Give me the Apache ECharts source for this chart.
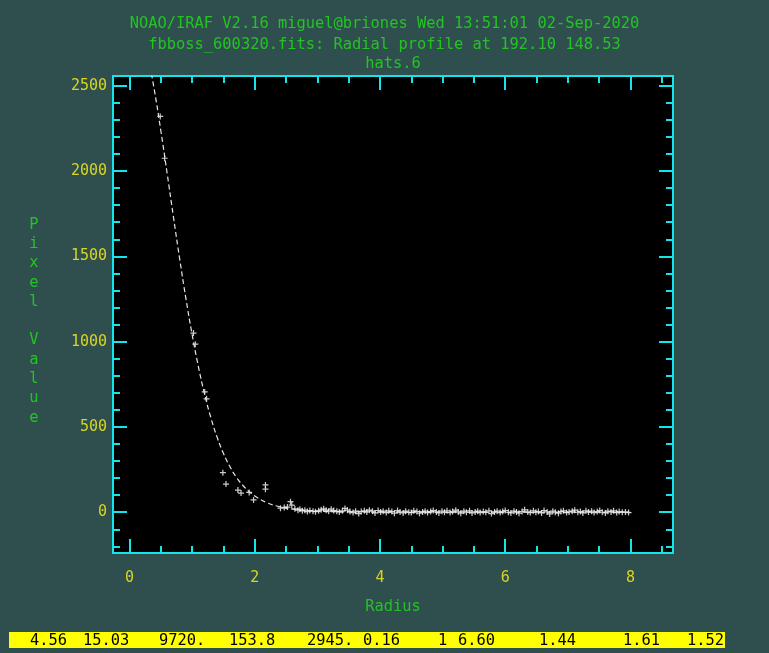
<!DOCTYPE html>
<html>
<head>
<meta charset="utf-8">
<title>Radial profile</title>
<script src="https://cdn.jsdelivr.net/npm/echarts@6/dist/echarts.min.js"></script>
<style>
  html, body { margin: 0; padding: 0; background: #2F4F4F; }
  #chart { width: 769px; height: 653px; }
</style>
</head>
<body>
<div id="chart"></div>
<script>
// Measured pixel values versus radius (sky subtracted)
const radius = [
  0.49, 0.56, 1.02, 1.05, 1.20, 1.23, 1.49, 1.54, 1.73, 1.78, 1.91, 1.98, 2.17, 2.17,
  2.41, 2.47, 2.52, 2.57, 2.59, 2.64, 2.69,
  2.72, 2.76, 2.80, 2.84, 2.88, 2.93, 2.97, 3.02, 3.06, 3.10, 3.14, 3.18, 3.22, 3.26,
  3.31, 3.35, 3.40, 3.44, 3.48, 3.52, 3.57, 3.61, 3.66, 3.70, 3.75, 3.79, 3.83, 3.88,
  3.92, 3.97, 4.01, 4.05, 4.10, 4.14, 4.19, 4.23, 4.28, 4.32, 4.37, 4.41, 4.46, 4.50,
  4.54, 4.59, 4.63, 4.68, 4.72, 4.76, 4.81, 4.85, 4.90, 4.94, 4.99, 5.03, 5.07, 5.12,
  5.16, 5.21, 5.25, 5.29, 5.34, 5.38, 5.43, 5.47, 5.52, 5.56, 5.60, 5.65, 5.69, 5.74,
  5.78, 5.83, 5.87, 5.92, 5.96, 6.00, 6.05, 6.09, 6.14, 6.18, 6.22, 6.27, 6.31, 6.36,
  6.40, 6.45, 6.49, 6.53, 6.58, 6.62, 6.67, 6.71, 6.76, 6.80, 6.85, 6.89, 6.93, 6.98,
  7.02, 7.07, 7.11, 7.16, 7.20, 7.24, 7.29, 7.33, 7.38, 7.42, 7.47, 7.51, 7.55, 7.60,
  7.64, 7.69, 7.73, 7.78, 7.82, 7.87, 7.92, 7.97
];
const pixelValue = [
  2320, 2075, 1050, 985, 705, 665, 232, 165, 130, 112, 116, 72, 160, 135,
  24, 28, 30, 62, 42, 20, 12,
  18, 8, 12, 4, 10, 6, 3, 8, 14, 20, 12, 6, 18, 10,
  5, 2, 8, 22, 12, 4, -2, 6, -8, 4, 8, 2, 12, 6,
  -4, 10, 2, 6, -2, 8, 4, -6, 10, 2, -4, 6, 0, -2,
  8, 4, -6, 2, 6, -2, 4, 10, 2, -4, 6, 0, 8, -2,
  4, 12, 2, -6, 6, 0, 8, -4, 2, 6, -2, 4, 0, 8,
  -8, 2, 6, -2, 4, 10, 0, -4, 6, 2, -6, 4, 14, 2,
  -2, 8, 0, 4, -4, 10, 2, -10, 6, 0, -6, 4, 8, -2,
  2, 6, 12, 0, 4, -4, 8, 2, 6, -2, 4, 10, 0, -4,
  6, 2, 8, -2, 4, 0, 2, -2
];

// Fitted profile curve
const fitRadius = [
  0.30, 0.40, 0.50, 0.60, 0.70, 0.80, 0.90, 1.00, 1.10, 1.20, 1.30, 1.40, 1.50,
  1.60, 1.70, 1.80, 1.90, 2.00, 2.20, 2.40, 2.60, 2.80, 3.00, 3.50, 4.00, 5.00,
  6.00, 7.00, 8.00
];
const fitValue = [
  2663, 2465, 2234, 1986, 1732, 1485, 1252, 1040, 852, 689, 552, 438, 344,
  269, 208, 161, 124, 95, 55, 32, 19, 11, 6, 2, 1, 0,
  0, 0, 0
];

// Axis ticks and labels
const xMajorTicks = [0, 2, 4, 6, 8];
const xMinorTicks = [0.5, 1, 1.5, 2.5, 3, 3.5, 4.5, 5, 5.5, 6.5, 7, 7.5, 8.5];
const yMajorTicks = [0, 500, 1000, 1500, 2000, 2500];
const yMinorTicks = [-200, -100, 100, 200, 300, 400, 600, 700, 800, 900, 1100, 1200,
  1300, 1400, 1600, 1700, 1800, 1900, 2100, 2200, 2300, 2400];

// Header and status line text
const titleLines = [
  'NOAO/IRAF V2.16 miguel@briones Wed 13:51:01 02-Sep-2020',
  'fbboss_600320.fits: Radial profile at 192.10 148.53',
  'hats.6'
];
const xAxisTitle = 'Radius';
const yAxisTitle = 'Pixel Value';
const statusFields = ['4.56', '15.03', '9720.', '153.8', '2945.', '0.16', '1', '6.60', '1.44', '1.61', '1.52'];

const FONT = '"DejaVu Sans Mono", "Liberation Mono", monospace';
const CYAN = '#12E6EA';
const GREEN = '#22C422';
const YELLOW = '#D6D622';

const X_MIN = -0.265, X_MAX = 8.68;
const Y_MIN = -239, Y_MAX = 2557;

function xAxisDef(position, ticks, len, labels) {
  return {
    type: 'value', position: position, min: X_MIN, max: X_MAX,
    axisLine: { show: false, onZero: false },
    splitLine: { show: false },
    axisTick: { show: true, inside: true, length: len, customValues: ticks,
      lineStyle: { color: CYAN, width: 2 } },
    axisLabel: labels ? { show: true, customValues: labels, margin: 18,
      color: YELLOW, fontFamily: FONT, fontSize: 15,
      formatter: v => String(v) } : { show: false }
  };
}
function yAxisDef(position, ticks, len, labels) {
  return {
    type: 'value', position: position, min: Y_MIN, max: Y_MAX,
    axisLine: { show: false, onZero: false },
    splitLine: { show: false },
    axisTick: { show: true, inside: true, length: len, customValues: ticks,
      lineStyle: { color: CYAN, width: 2 } },
    axisLabel: labels ? { show: true, customValues: labels, margin: 6,
      color: YELLOW, fontFamily: FONT, fontSize: 15,
      formatter: v => String(v) } : { show: false }
  };
}

const chart = echarts.init(document.getElementById('chart'), null, { renderer: 'canvas' });

const points = radius.map((r, i) => [r, pixelValue[i]]);
const fit = fitRadius.map((r, i) => [r, fitValue[i]]);

const statusX = [30, 83, 159, 229, 307, 363, 438, 458, 539, 623, 687];

const graphics = [
  { type: 'text', left: 'center', top: 16, style: { text: titleLines[0], fill: GREEN, font: '15.4px ' + FONT } },
  { type: 'text', left: 'center', top: 37, style: { text: titleLines[1], fill: GREEN, font: '15.4px ' + FONT } },
  { type: 'text', x: 393, y: 64, style: { text: titleLines[2], fill: GREEN, font: '15.4px ' + FONT, align: 'center', verticalAlign: 'middle' } },
  { type: 'text', x: 393, y: 607, style: { text: xAxisTitle, fill: GREEN, font: '15.4px ' + FONT, align: 'center', verticalAlign: 'middle' } },
  { type: 'text', x: 34, y: 215, style: { text: yAxisTitle.split('').join('\n'), fill: GREEN, font: '15.4px ' + FONT, align: 'center', verticalAlign: 'top', lineHeight: 19.3 } },
  { type: 'rect', shape: { x: 9, y: 632, width: 716, height: 16 }, style: { fill: '#FFFF00' } }
];
statusFields.forEach((t, i) => {
  graphics.push({ type: 'text', x: statusX[i], y: 640.5,
    style: { text: t, fill: '#000', font: '15.4px ' + FONT, verticalAlign: 'middle' } });
});

chart.setOption({
  backgroundColor: '#2F4F4F',
  animation: false,
  grid: { left: 113, top: 76, width: 560, height: 477, show: true,
    backgroundColor: '#000000', borderColor: CYAN, borderWidth: 2 },
  xAxis: [
    xAxisDef('bottom', xMajorTicks, 14, xMajorTicks),
    xAxisDef('bottom', xMinorTicks, 7, null),
    xAxisDef('top', xMajorTicks, 14, null),
    xAxisDef('top', xMinorTicks, 7, null)
  ],
  yAxis: [
    yAxisDef('left', yMajorTicks, 14, yMajorTicks),
    yAxisDef('left', yMinorTicks, 7, null),
    yAxisDef('right', yMajorTicks, 14, null),
    yAxisDef('right', yMinorTicks, 7, null)
  ],
  series: [
    {
      type: 'line', data: fit, xAxisIndex: 0, yAxisIndex: 0,
      smooth: true, showSymbol: false, clip: true,
      lineStyle: { color: '#E6E6E6', width: 1.2, type: [5, 3] }
    },
    {
      type: 'scatter', data: points, xAxisIndex: 0, yAxisIndex: 0,
      symbol: 'path://M0,4H10V6H0Z M4,0H6V10H4Z', symbolSize: 6,
      itemStyle: { color: '#FFFFFF' }, clip: true
    }
  ],
  graphic: graphics
});
</script>
</body>
</html>
